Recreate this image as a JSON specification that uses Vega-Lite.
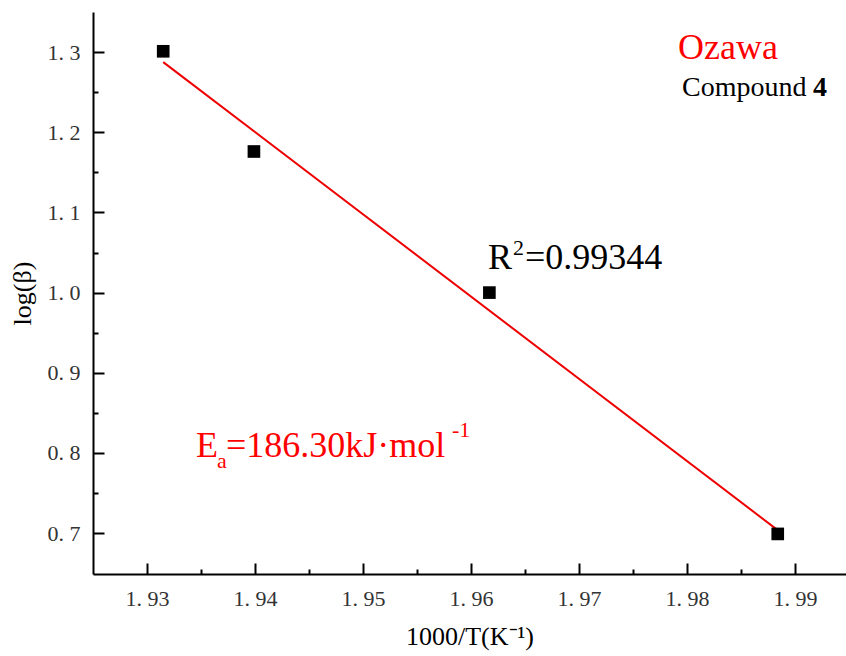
{
  "$schema": "https://vega.github.io/schema/vega-lite/v6.json",
  "width": 753,
  "height": 562,
  "autosize": {"type": "none"},
  "padding": {"left": 93, "top": 12, "right": 0, "bottom": 82},
  "background": "white",
  "config": {
    "view": {"stroke": null},
    "axis": {
      "grid": false,
      "domainColor": "black",
      "domainWidth": 2,
      "tickColor": "black",
      "tickWidth": 2,
      "labelFont": "'Liberation Serif', 'Times New Roman', serif",
      "labelFontSize": 22,
      "labelColor": "#333333",
      "titleFont": "'Liberation Serif', 'Times New Roman', serif",
      "titleFontWeight": "normal",
      "titleColor": "black"
    }
  },
  "layer": [
    {
      "data": {"values": [{"x": 1.9315, "y": 1.2875}, {"x": 1.9884, "y": 0.7037}]},
      "mark": {"type": "line", "color": "#ee0000", "strokeWidth": 2},
      "encoding": {
        "x": {
          "field": "x", "type": "quantitative",
          "scale": {"domain": [1.925, 1.99472], "nice": false, "zero": false},
          "axis": {
            "values": [1.93, 1.935, 1.94, 1.945, 1.95, 1.955, 1.96, 1.965, 1.97, 1.975, 1.98, 1.985, 1.99],
            "tickSize": -11,
            "tickDash": {"condition": {"test": "round(datum.value*1000) % 10 == 5", "value": [5, 30]}, "value": [11, 0]},
            "labelExpr": "round(datum.value*1000) % 10 == 5 ? '' : replace(format(datum.value, '.2f'), '.', '. ')",
            "labelPadding": 25,
            "title": "1000/T(K⁻¹)",
            "titleFontSize": 26,
            "titlePadding": 14
          }
        },
        "y": {
          "field": "y", "type": "quantitative",
          "scale": {"domain": [0.649, 1.35], "nice": false, "zero": false},
          "axis": {
            "values": [0.7, 0.75, 0.8, 0.85, 0.9, 0.95, 1.0, 1.05, 1.1, 1.15, 1.2, 1.25, 1.3],
            "tickSize": -11,
            "tickDash": {"condition": {"test": "round(datum.value*100) % 10 == 5", "value": [5, 30]}, "value": [11, 0]},
            "labelExpr": "round(datum.value*100) % 10 == 5 ? '' : replace(format(datum.value, '.1f'), '.', '. ')",
            "labelPadding": 24,
            "title": "log(β)",
            "titleFontSize": 26,
            "titlePadding": 12
          }
        }
      }
    },
    {
      "data": {"values": [
        {"x": 1.9315, "y": 1.301},
        {"x": 1.9399, "y": 1.176},
        {"x": 1.9617, "y": 1.0},
        {"x": 1.9884, "y": 0.699}
      ]},
      "mark": {"type": "point", "shape": "square", "filled": true, "color": "black", "size": 160, "opacity": 1},
      "encoding": {
        "x": {"field": "x", "type": "quantitative"},
        "y": {"field": "y", "type": "quantitative"}
      }
    },
    {
      "mark": {"type": "rule", "color": "black", "strokeWidth": 2},
      "encoding": {"y": {"datum": 1.35, "type": "quantitative"}}
    },
    {
      "data": {"values": [
        {"t": "Ozawa", "x": 1.979167, "y": 1.29137},
        {"t": "E", "x": 1.934537, "y": 0.79493},
        {"t": "=186.30kJ·mol", "x": 1.937315, "y": 0.79493}
      ]},
      "mark": {"type": "text", "align": "left", "baseline": "alphabetic", "font": "'Liberation Serif', 'Times New Roman', serif", "fontSize": 36, "color": "#ff0000"},
      "encoding": {
        "x": {"field": "x", "type": "quantitative"},
        "y": {"field": "y", "type": "quantitative"},
        "text": {"field": "t"}
      }
    },
    {
      "data": {"values": [
        {"t": "a", "x": 1.936481, "y": 0.78121},
        {"t": "-1", "x": 1.958241, "y": 0.81989}
      ]},
      "mark": {"type": "text", "align": "left", "baseline": "alphabetic", "font": "'Liberation Serif', 'Times New Roman', serif", "fontSize": 22, "color": "#ff0000"},
      "encoding": {
        "x": {"field": "x", "type": "quantitative"},
        "y": {"field": "y", "type": "quantitative"},
        "text": {"field": "t"}
      }
    },
    {
      "data": {"values": [
        {"t": "R", "x": 1.961574, "y": 1.02943},
        {"t": "=0.99344", "x": 1.965, "y": 1.02943}
      ]},
      "mark": {"type": "text", "align": "left", "baseline": "alphabetic", "font": "'Liberation Serif', 'Times New Roman', serif", "fontSize": 36, "color": "black"},
      "encoding": {
        "x": {"field": "x", "type": "quantitative"},
        "y": {"field": "y", "type": "quantitative"},
        "text": {"field": "t"}
      }
    },
    {
      "data": {"values": [
        {"t": "2", "x": 1.963889, "y": 1.04689}
      ]},
      "mark": {"type": "text", "align": "left", "baseline": "alphabetic", "font": "'Liberation Serif', 'Times New Roman', serif", "fontSize": 22, "color": "black"},
      "encoding": {
        "x": {"field": "x", "type": "quantitative"},
        "y": {"field": "y", "type": "quantitative"},
        "text": {"field": "t"}
      }
    },
    {
      "data": {"values": [
        {"t": "Compound", "x": 1.979537, "y": 1.24522}
      ]},
      "mark": {"type": "text", "align": "left", "baseline": "alphabetic", "font": "'Liberation Serif', 'Times New Roman', serif", "fontSize": 28, "color": "black"},
      "encoding": {
        "x": {"field": "x", "type": "quantitative"},
        "y": {"field": "y", "type": "quantitative"},
        "text": {"field": "t"}
      }
    },
    {
      "data": {"values": [
        {"t": "4", "x": 1.991667, "y": 1.24522}
      ]},
      "mark": {"type": "text", "align": "left", "baseline": "alphabetic", "font": "'Liberation Serif', 'Times New Roman', serif", "fontSize": 28, "fontWeight": "bold", "color": "black"},
      "encoding": {
        "x": {"field": "x", "type": "quantitative"},
        "y": {"field": "y", "type": "quantitative"},
        "text": {"field": "t"}
      }
    }
  ]
}
